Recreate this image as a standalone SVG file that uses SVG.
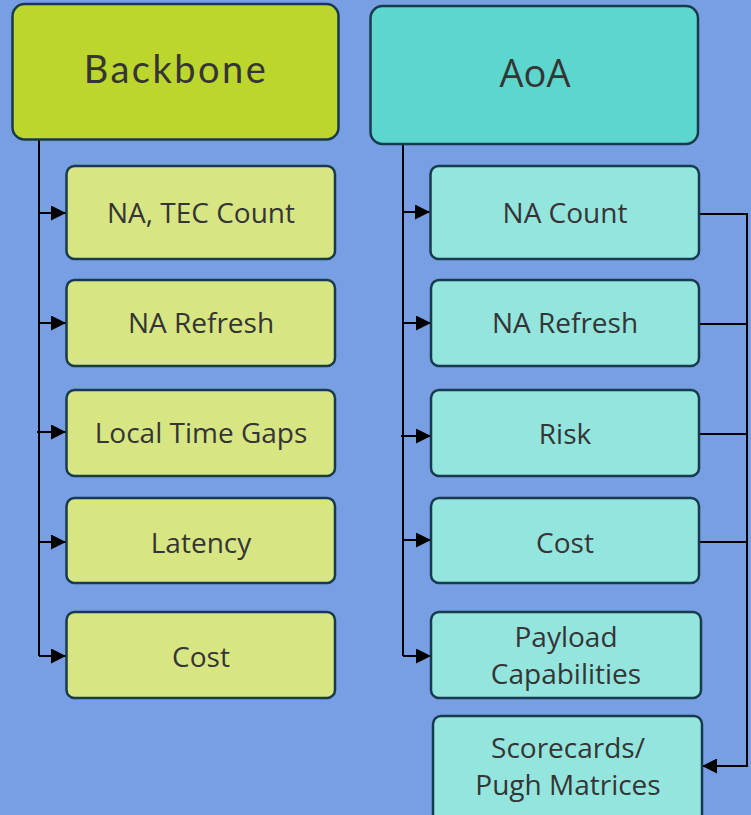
<svg xmlns="http://www.w3.org/2000/svg" width="751" height="815" viewBox="0 0 751 815">
<defs>
<style>
.bg{fill:#789FE4}
.box{stroke:#173A4D;stroke-width:2.5}
.bb{fill:#BDD62E}
.bc{fill:#D7E683}
.ab{fill:#5DD6CD}
.ac{fill:#94E5DE}
.t{font-family:"Open Sans","Liberation Sans",sans-serif;font-size:28px;fill:#353535;text-anchor:middle}
.h{font-family:"Lato","Open Sans",sans-serif;font-size:38px;fill:#353535;text-anchor:middle}
.c{fill:none;stroke:#000;stroke-width:2}
</style>
<marker id="arr" markerWidth="15" markerHeight="15" refX="15" refY="7.5" orient="auto" markerUnits="userSpaceOnUse">
<path d="M0,0 L15,7.5 L0,15 Z" fill="#000"/>
</marker>
</defs>
<rect class="bg" x="0" y="0" width="751" height="815"/>

<g id="connectors">
<path class="c" d="M39,140 V656"/>
<path class="c" d="M39,213 H66" marker-end="url(#arr)"/>
<path class="c" d="M39,323 H66" marker-end="url(#arr)"/>
<path class="c" d="M37,432 H66" marker-end="url(#arr)"/>
<path class="c" d="M39,542 H66" marker-end="url(#arr)"/>
<path class="c" d="M39,656 H66" marker-end="url(#arr)"/>
<path class="c" d="M403,144 V656"/>
<path class="c" d="M403,212 H430" marker-end="url(#arr)"/>
<path class="c" d="M403,323 H431" marker-end="url(#arr)"/>
<path class="c" d="M401,436 H431" marker-end="url(#arr)"/>
<path class="c" d="M403,540 H431" marker-end="url(#arr)"/>
<path class="c" d="M403,656 H431" marker-end="url(#arr)"/>
<path class="c" d="M699,214 H747"/>
<path class="c" d="M699,324 H747"/>
<path class="c" d="M699,434 H747"/>
<path class="c" d="M699,542 H747"/>
<path class="c" d="M747,213 V766 H702" marker-end="url(#arr)"/>
</g>

<g id="backbone">
<rect class="box bb" x="12.5" y="4" width="326" height="135.5" rx="12"/>
<text class="h" x="176" y="83" letter-spacing="2.5">Backbone</text>
</g>
<g id="bb-na-tec-count">
<rect class="box bc" x="66.5" y="166" width="268.5" height="93" rx="8"/>
<text class="t" x="201" y="223">NA, TEC Count</text>
</g>
<g id="bb-na-refresh">
<rect class="box bc" x="66.5" y="280" width="268.5" height="86" rx="8"/>
<text class="t" x="201" y="333">NA Refresh</text>
</g>
<g id="bb-local-time-gaps">
<rect class="box bc" x="66.5" y="390" width="268.5" height="86" rx="8"/>
<text class="t" x="201" y="443">Local Time Gaps</text>
</g>
<g id="bb-latency">
<rect class="box bc" x="66.5" y="498" width="268.5" height="85" rx="8"/>
<text class="t" x="201" y="553">Latency</text>
</g>
<g id="bb-cost">
<rect class="box bc" x="66.5" y="612" width="268.5" height="86" rx="8"/>
<text class="t" x="201" y="667">Cost</text>
</g>

<g id="aoa">
<rect class="box ab" x="370.5" y="6" width="327.5" height="138" rx="12"/>
<text class="t" x="535" y="87" style="font-size:38px">AoA</text>
</g>
<g id="aoa-na-count">
<rect class="box ac" x="430.5" y="166" width="268.5" height="93" rx="8"/>
<text class="t" x="565" y="223">NA Count</text>
</g>
<g id="aoa-na-refresh">
<rect class="box ac" x="431" y="280" width="268" height="86" rx="8"/>
<text class="t" x="565" y="333">NA Refresh</text>
</g>
<g id="aoa-risk">
<rect class="box ac" x="431" y="390" width="268" height="86" rx="8"/>
<text class="t" x="565" y="444">Risk</text>
</g>
<g id="aoa-cost">
<rect class="box ac" x="431" y="498" width="268" height="85" rx="8"/>
<text class="t" x="565" y="553">Cost</text>
</g>
<g id="aoa-payload">
<rect class="box ac" x="431" y="612" width="270" height="86" rx="8"/>
<text class="t" x="566" y="647">Payload</text>
<text class="t" x="566" y="684">Capabilities</text>
</g>
<g id="aoa-scorecards">
<rect class="box ac" x="433" y="716" width="269" height="120" rx="8"/>
<text class="t" x="568" y="758">Scorecards/</text>
<text class="t" x="568" y="795">Pugh Matrices</text>
</g>
</svg>
